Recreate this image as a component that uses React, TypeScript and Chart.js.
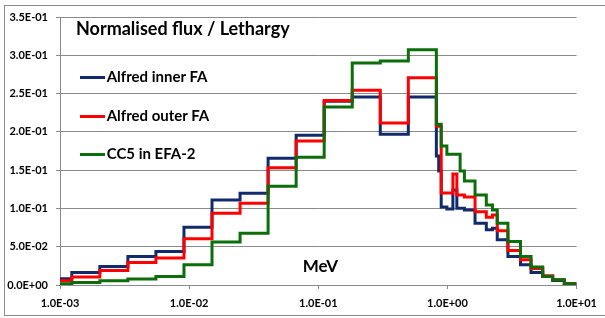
import React, { useEffect, useRef } from "react";
import { Chart, registerables } from "chart.js";

Chart.register(...registerables);

// Group boundaries (MeV): lower edges of each group, last entry is the upper edge of the last group
const edgesMeV = [
  1.0e-3, 1.2341e-3, 2.0347e-3, 3.3546e-3, 5.5308e-3, 9.1188e-3, 1.5034e-2, 2.4788e-2,
  4.0868e-2, 6.7379e-2, 0.11109, 0.18316, 0.30197, 0.49787, 0.82085,
  0.856, 0.895, 0.99, 1.102, 1.183, 1.254, 1.3534, 1.636, 2.0, 2.2313, 2.43, 2.94,
  3.6788, 4.44, 5.47, 6.53, 8.04, 10.0,
];

const alfredInner = [
  0.0082, 0.0164, 0.0242, 0.0372, 0.0437, 0.0755, 0.111, 0.1198, 0.1654, 0.1957, 0.24, 0.2456, 0.197, 0.2456,
  0.1684, 0.1488, 0.102, 0.0994, 0.1241, 0.1003, 0.1003, 0.098, 0.0807, 0.072, 0.0742, 0.059, 0.0372, 0.0264,
  0.0164, 0.0112, 0.006, 0.0017,
];

const alfredOuter = [
  0.0056, 0.0104, 0.019, 0.0294, 0.0351, 0.0603, 0.0937, 0.1068, 0.1531, 0.1879, 0.241, 0.2543, 0.2117, 0.2708,
  0.2074, 0.2074, 0.1202, 0.1202, 0.1449, 0.1176, 0.1176, 0.115, 0.0958, 0.0885, 0.0915, 0.0707, 0.0451, 0.0329,
  0.0216, 0.0121, 0.0069, 0.0017,
];

const cc5Efa2 = [
  0.0017, 0.0034, 0.0056, 0.0078, 0.0112, 0.0264, 0.056, 0.0677, 0.129, 0.1667, 0.2326, 0.29, 0.2926, 0.3073,
  0.21, 0.21, 0.1814, 0.1706, 0.1706, 0.1706, 0.1488, 0.1358, 0.1176, 0.1046, 0.098, 0.0807, 0.0568, 0.0372,
  0.0234, 0.0112, 0.0069, 0.0017,
];

const xTickValues = [1e-3, 1e-2, 1e-1, 1, 10];
const yTickValues = [0, 0.05, 0.1, 0.15, 0.2, 0.25, 0.3, 0.35];

const seriesNames = ["Alfred inner FA", "Alfred outer FA", "CC5 in EFA-2"];
const seriesColors = ["#112a6b", "#ff0000", "#0b6e0b"];

const FONT = "Lato, 'Open Sans', sans-serif";
const GRID = "#8a8a8a";

function fmtSci(v: number): string {
  if (v === 0) return "0.0E+00";
  let exp = Math.floor(Math.log10(Math.abs(v)) + 1e-9);
  let mant = v / Math.pow(10, exp);
  let m = mant.toFixed(1);
  if (m === "10.0") {
    exp += 1;
    m = "1.0";
  }
  const sign = exp < 0 ? "-" : "+";
  const e = Math.abs(exp).toString().padStart(2, "0");
  return `${m}E${sign}${e}`;
}

function toSteps(values: number[]) {
  const pts = values.map((v, i) => ({ x: edgesMeV[i], y: v }));
  pts.push({ x: edgesMeV[values.length], y: values[values.length - 1] });
  return pts;
}

export default function App() {
  const canvasRef = useRef<HTMLCanvasElement | null>(null);

  useEffect(() => {
    if (!canvasRef.current) return;
    const series = [alfredInner, alfredOuter, cc5Efa2];
    const chart = new Chart(canvasRef.current, {
      type: "line",
      data: {
        datasets: series.map((vals, i) => ({
          label: seriesNames[i],
          data: toSteps(vals),
          borderColor: seriesColors[i],
          backgroundColor: seriesColors[i],
          borderWidth: 3,
          pointRadius: 0,
          stepped: true,
          fill: false,
          order: 3 - i,
          borderJoinStyle: "miter",
        })),
      },
      options: {
        animation: false,
        responsive: false,
        maintainAspectRatio: false,
        layout: { padding: { left: 0, right: 26, top: 17, bottom: 0 } },
        plugins: {
          legend: { display: false },
          title: { display: false },
          tooltip: { enabled: false },
        },
        scales: {
          x: {
            type: "logarithmic",
            min: 1e-3,
            max: 10,
            afterBuildTicks: (s: any) => {
              s.ticks = xTickValues.map((v) => ({ value: v }));
            },
            afterFit: (s: any) => {
              s.height = 33;
            },
            grid: { drawOnChartArea: false, drawTicks: true, tickLength: 4, color: GRID },
            border: { display: true, color: GRID, width: 1 },
            ticks: {
              autoSkip: false,
              maxRotation: 0,
              padding: 8,
              color: "#000",
              font: { family: FONT, size: 11, weight: "bold" },
              callback: (v: any) => fmtSci(Number(v)),
            },
          },
          y: {
            type: "linear",
            min: 0,
            max: 0.35,
            afterBuildTicks: (s: any) => {
              s.ticks = yTickValues.map((v) => ({ value: v }));
            },
            afterFit: (s: any) => {
              s.width = 60;
            },
            grid: { color: GRID, tickLength: 4, drawTicks: true },
            border: { display: true, color: GRID, width: 1 },
            ticks: {
              padding: 8,
              color: "#000",
              font: { family: FONT, size: 11, weight: "bold" },
              callback: (v: any) => fmtSci(Number(v)),
            },
          },
        },
      } as any,
    });
    return () => chart.destroy();
  }, []);

  const textBase: React.CSSProperties = {
    position: "absolute",
    fontFamily: FONT,
    fontWeight: "bold",
    color: "#000",
    whiteSpace: "nowrap",
    lineHeight: 1,
  };

  const legendY = [77.7, 116, 154.3];

  return (
    <div
      style={{
        position: "fixed",
        left: 0,
        top: 0,
        width: 605,
        height: 318,
        background: "#fff",
        overflow: "hidden",
      }}
    >
      <canvas ref={canvasRef} width={605} height={318} style={{ position: "absolute", left: 0, top: 0, width: 605, height: 318 }} />
      <div
        style={{
          position: "absolute",
          left: 4,
          top: 5,
          width: 600,
          height: 309,
          border: "1px solid #8c8c8c",
          pointerEvents: "none",
        }}
      />
      <div style={{ ...textBase, left: 76, top: 18.5, fontSize: 18 }}>Normalised flux / Lethargy</div>
      {seriesNames.map((name, i) => (
        <React.Fragment key={name}>
          <div
            style={{
              position: "absolute",
              left: 80,
              top: legendY[i] - 1.5,
              width: 25,
              height: 3,
              background: seriesColors[i],
            }}
          />
          <div style={{ ...textBase, left: 106.7, top: legendY[i] + 5 - 13.3, fontSize: 15 }}>{name}</div>
        </React.Fragment>
      ))}
      <div style={{ ...textBase, left: 302.7, top: 256.6, fontSize: 17 }}>MeV</div>
    </div>
  );
}
